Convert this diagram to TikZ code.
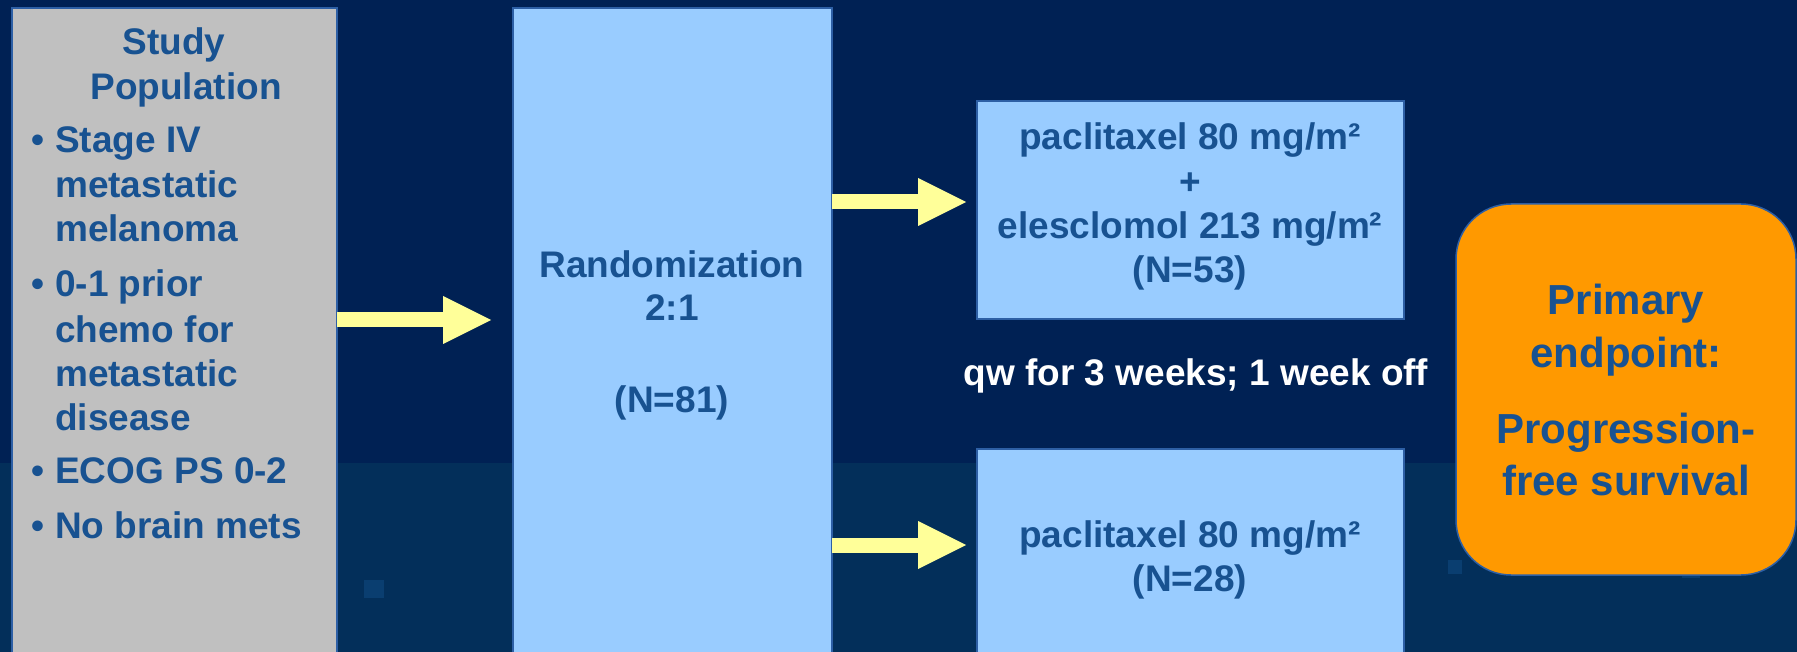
\documentclass[tikz,border=0pt]{standalone}
\usepackage{fontspec}
\setmainfont{Liberation Sans}
\usetikzlibrary{arrows.meta}
\definecolor{navy}{RGB}{0,33,84}
\definecolor{band}{RGB}{3,47,90}
\definecolor{speck}{RGB}{10,62,112}
\definecolor{popgray}{RGB}{192,192,192}
\definecolor{lblue}{RGB}{153,204,255}
\definecolor{orng}{RGB}{255,153,0}
\definecolor{ylw}{RGB}{255,255,153}
\definecolor{tblue}{RGB}{24,82,145}
\definecolor{edge}{RGB}{45,95,165}
\begin{document}
\begin{tikzpicture}[x=1pt,y=-1pt,
  boxstyle/.style={draw=edge, line width=1.5pt, anchor=north west, inner sep=0pt, outer sep=0pt},
  txt/.style={text=tblue, font=\bfseries\fontsize{37}{45}\selectfont, inner sep=0pt, anchor=base},
  txtl/.style={txt, anchor=base west},
  bigtxt/.style={text=tblue, font=\bfseries\fontsize{42}{52}\selectfont, inner sep=0pt, anchor=base},
  whitetxt/.style={text=white, font=\bfseries\fontsize{37}{45}\selectfont, inner sep=0pt, anchor=base},
  yarrow/.style={draw=ylw, line width=15pt, -{Triangle[length=48pt,width=48pt,line width=0pt]}}
]
\useasboundingbox (0,0) rectangle (1797,652);
\clip (0,0) rectangle (1797,652);
% background
\fill[navy] (0,0) rectangle (1797,652);
\fill[band] (0,463) rectangle (1797,652);
\fill[speck] (364,580) rectangle (384,598);
\fill[speck] (1262,520) rectangle (1274,532);
\fill[speck] (1682,560) rectangle (1700,578);
\fill[speck] (1448,560) rectangle (1462,574);

% boxes
\node[boxstyle, fill=popgray, minimum width=325pt, minimum height=700pt] (pop) at (12,8) {};
\node[boxstyle, fill=lblue, minimum width=319pt, minimum height=700pt] (rand) at (513,8) {};
\node[boxstyle, fill=lblue, minimum width=427pt, minimum height=218pt] (armA) at (977,101) {};
\node[boxstyle, fill=lblue, minimum width=427pt, minimum height=300pt] (armB) at (977,449) {};
\node[boxstyle, fill=orng, rounded corners=55pt, minimum width=340pt, minimum height=371pt] (endp) at (1456,204) {};

% study population text
\node[txt] (t1) at (174,55) {Study};
\node[txt] (t2) at (186,100) {Population};
\node[txt] (b1) at (38,153) {•};
\node[txtl] (t3) at (55,153) {Stage IV};
\node[txtl] (t4) at (55,198) {metastatic};
\node[txtl] (t5) at (55,242) {melanoma};
\node[txt] (b2) at (38,297) {•};
\node[txtl] (t6) at (55,297) {0-1 prior};
\node[txtl] (t7) at (55,342) {chemo for};
\node[txtl] (t8) at (55,386) {metastatic};
\node[txtl] (t9) at (55,430) {disease};
\node[txt] (b3) at (38,483) {•};
\node[txtl] (t10) at (55,483) {ECOG PS 0-2};
\node[txt] (b4) at (38,538) {•};
\node[txtl] (t11) at (55,538) {No brain mets};

% randomization text
\node[txt] (r1) at (672,278) {Randomization};
\node[txt] (r2) at (672,321) {2:1};
\node[txt] (r3) at (672,412) {(N=81)};

% arm A text
\node[txt] (a1) at (1190,150) {paclitaxel 80 mg/m²};
\node[txt] (a2) at (1190,195) {+};
\node[txt] (a3) at (1190,239) {elesclomol 213 mg/m²};
\node[txt] (a4) at (1190,283) {(N=53)};

% schedule
\node[whitetxt] (sched) at (1196,385) {qw for 3 weeks; 1 week off};

% arm B text
\node[txt] (c1) at (1190,547) {paclitaxel 80 mg/m²};
\node[txt] (c2) at (1190,591) {(N=28)};

% endpoint text
\node[bigtxt] (e1) at (1626,315) {Primary};
\node[bigtxt] (e2) at (1626,367) {endpoint:};
\node[bigtxt] (e3) at (1626,443) {Progression-};
\node[bigtxt] (e4) at (1626,495) {free survival};

% arrows
\coordinate (ya) at (0,320);
\coordinate (yb) at (0,202);
\coordinate (yc) at (0,545);
\draw[yarrow, shorten >=22pt] (pop.east |- ya) -- (rand.west |- ya);
\draw[yarrow, shorten >=11pt] (rand.east |- yb) -- (armA.west |- yb);
\draw[yarrow, shorten >=11pt] (rand.east |- yc) -- (armB.west |- yc);
\end{tikzpicture}
\end{document}
